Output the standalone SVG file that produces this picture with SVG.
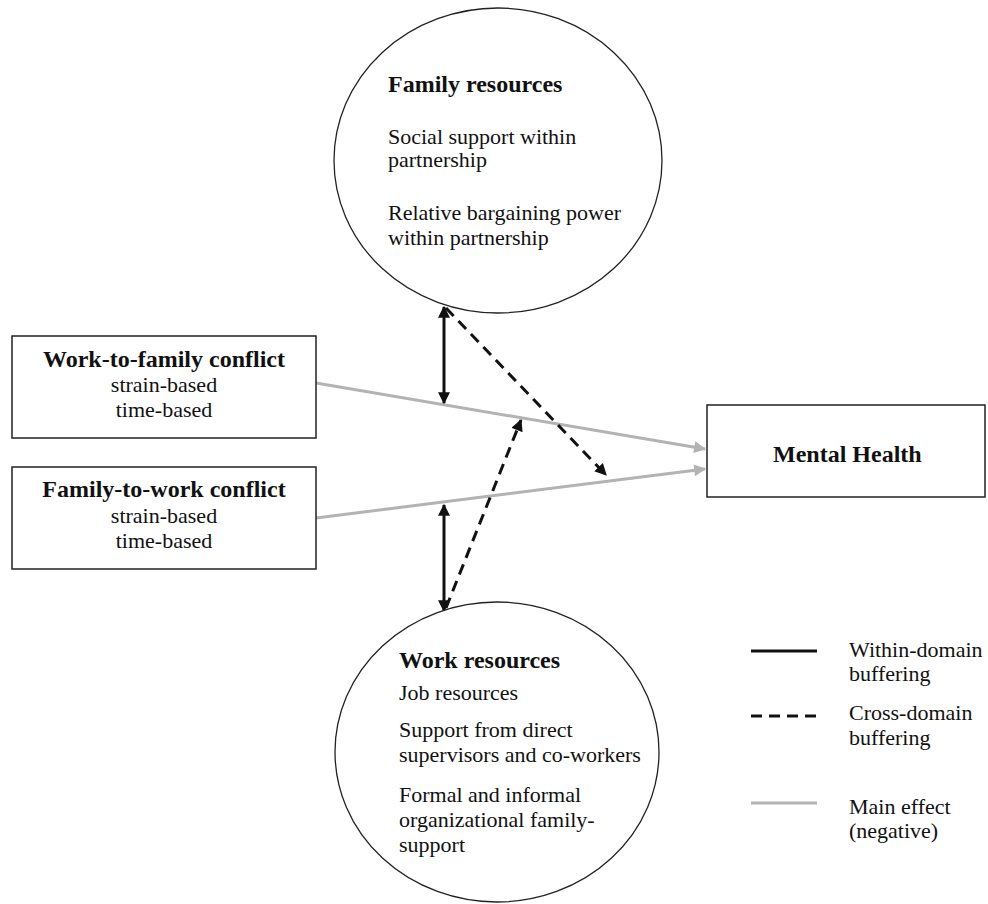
<svg xmlns="http://www.w3.org/2000/svg" width="988" height="904" viewBox="0 0 988 904">
<defs>
<style>
text{font-family:"Liberation Serif","Times New Roman",serif;fill:#111}
.b{font-weight:bold;font-size:24px}
.r{font-size:22px}
.c{text-anchor:middle}
.node{fill:#fff;stroke:#222;stroke-width:1.5}
.circ{fill:#fff;stroke:#222;stroke-width:1.3}
.solid{stroke:#111;stroke-width:3;fill:none}
.dash{stroke:#111;stroke-width:3;fill:none;stroke-dasharray:11 7}
.gray{stroke:#b3b3b3;stroke-width:3;fill:none}
</style>
<marker id="ab" viewBox="0 0 10 10" refX="9" refY="5" markerWidth="4.2" markerHeight="4" orient="auto-start-reverse" markerUnits="strokeWidth">
<path d="M0,0 L10,5 L0,10 Z" fill="#111"/>
</marker>
<marker id="ag" viewBox="0 0 10 10" refX="9" refY="5" markerWidth="5" markerHeight="4" orient="auto" markerUnits="strokeWidth">
<path d="M0,0 L10,5 L0,10 Z" fill="#b3b3b3"/>
</marker>
</defs>
<rect width="988" height="904" fill="#fff"/>

<g id="connectors">
<line class="gray" x1="316" y1="383" x2="705" y2="449" marker-end="url(#ag)"/>
<line class="gray" x1="316" y1="518" x2="705" y2="469" marker-end="url(#ag)"/>
<line class="solid" x1="444" y1="307" x2="444" y2="403" marker-start="url(#ab)" marker-end="url(#ab)"/>
<line class="solid" x1="444" y1="505" x2="444" y2="611" marker-start="url(#ab)" marker-end="url(#ab)"/>
<line class="dash" x1="446" y1="308" x2="606" y2="475" marker-end="url(#ab)"/>
<line class="dash" x1="446" y1="608" x2="521" y2="420" marker-end="url(#ab)"/>
</g>

<g id="family-resources">
<ellipse class="circ" cx="498" cy="160.5" rx="164" ry="152.5"/>
<text class="b" x="388" y="92">Family resources</text>
<text class="r" x="388" y="144">Social support within</text>
<text class="r" x="388" y="167">partnership</text>
<text class="r" x="388" y="220">Relative bargaining power</text>
<text class="r" x="388" y="245">within partnership</text>
</g>

<g id="work-to-family">
<rect class="node" x="12" y="336" width="304" height="102"/>
<text class="b c" x="164" y="367">Work-to-family conflict</text>
<text class="r c" x="164" y="392">strain-based</text>
<text class="r c" x="164" y="417">time-based</text>
</g>

<g id="family-to-work">
<rect class="node" x="12" y="467" width="304" height="102"/>
<text class="b c" x="164" y="497">Family-to-work conflict</text>
<text class="r c" x="164" y="523">strain-based</text>
<text class="r c" x="164" y="548">time-based</text>
</g>

<g id="mental-health">
<rect class="node" x="707" y="405" width="278" height="92"/>
<text class="b" x="773" y="462">Mental Health</text>
</g>

<g id="work-resources">
<ellipse class="circ" cx="497" cy="752" rx="162" ry="150"/>
<text class="b" x="399" y="668">Work resources</text>
<text class="r" x="399" y="700">Job resources</text>
<text class="r" x="399" y="737">Support from direct</text>
<text class="r" x="399" y="762">supervisors and co-workers</text>
<text class="r" x="399" y="802">Formal and informal</text>
<text class="r" x="399" y="827">organizational family-</text>
<text class="r" x="399" y="852">support</text>
</g>

<g id="legend">
<line class="solid" x1="751" y1="651" x2="817" y2="651"/>
<text class="r" x="849" y="657">Within-domain</text>
<text class="r" x="849" y="681">buffering</text>
<line class="dash" x1="751" y1="716" x2="817" y2="716" stroke-dasharray="12 8"/>
<text class="r" x="849" y="720">Cross-domain</text>
<text class="r" x="849" y="745">buffering</text>
<line class="gray" x1="751" y1="803" x2="817" y2="803"/>
<text class="r" x="849" y="814">Main effect</text>
<text class="r" x="849" y="838">(negative)</text>
</g>
</svg>
